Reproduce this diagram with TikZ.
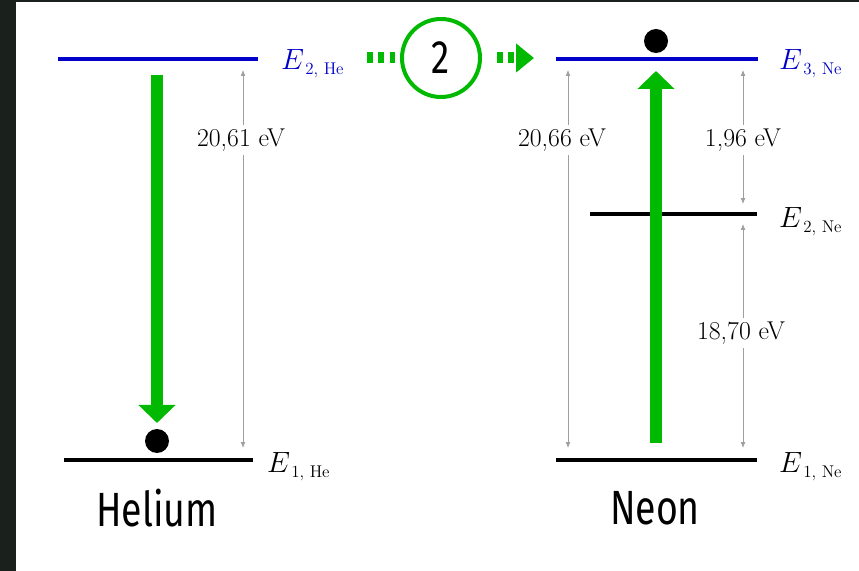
\RequirePackage{fix-cm}
\documentclass[tikz,border=0pt]{standalone}
\usepackage{fontspec}
\newfontfamily\namefont{Fira Sans}[FakeStretch=0.78]
\usetikzlibrary{arrows.meta}
\definecolor{levelblue}{RGB}{0,0,200}
\definecolor{jumpgreen}{RGB}{0,185,0}
\definecolor{boardgray}{RGB}{26,32,28}
\newcommand{\levelsub}[1]{\hbox{\fontsize{14.5}{17}\selectfont\,#1}}

\begin{document}
\begin{tikzpicture}[x=0.03cm, y=-0.03cm,
	upper/.style={draw=levelblue, line width=0.12cm},
	lower/.style={draw=black, line width=0.12cm},
	gap/.style={draw=gray!75, line width=0.6pt, -{Latex[length=5pt, width=4pt]}},
	gaplabel/.style={fill=white, inner sep=3pt, font=\fontsize{22}{26}\selectfont},
	elabel/.style={anchor=base west, inner sep=0pt, font=\fontsize{25}{30}\selectfont},
	jump/.style={draw=jumpgreen, line width=0.36cm, -{Triangle[length=0.54cm, width=1.08cm]}},
	hop/.style={draw=jumpgreen, line width=0.33cm, dash pattern=on 0.18cm off 0.16cm},
	electron/.style={shape=circle, fill=black, inner sep=0pt, minimum size=0.72cm},
	atomname/.style={font=\namefont\fontsize{41}{48}\selectfont}]
	\useasboundingbox (0,0) rectangle (859,571);
	\fill[boardgray] (0,0) rectangle (16,571);
	\fill[boardgray] (0,0) rectangle (859,2);
	% Helium levels:
	\coordinate (he2a) at (58,59); \coordinate (he2b) at (258,59);
	\coordinate (he1a) at (64,460); \coordinate (he1b) at (253,460);
	\draw[upper] (he2a) -- (he2b);
	\draw[lower] (he1a) -- (he1b);
	\node[elabel, text=levelblue] (he2) at (281,70) {$E_{\levelsub{2, He}}$};
	\node[elabel] (he1) at (267,473) {$E_{\levelsub{1, He}}$};
	\node[atomname] (helium) at (157,508) {Helium};
	\coordinate (hetop) at (243,70); \coordinate (hebot) at (243,448);
	\node[gaplabel] (hegap) at (241,140) {20,61 eV};
	\draw[gap] (hegap.north -| hetop) -- (hetop);
	\draw[gap] (hegap.south -| hebot) -- (hebot);
	\coordinate (hefrom) at (157,75); \coordinate (heto) at (157,423);
	\draw[jump] (hefrom) -- (heto);
	\node[electron] (hedot) at (157,441) {};
	% Transfer:
	\coordinate (hopfrom) at (367,58); \coordinate (hopto) at (534,58);
	\node[shape=circle, draw=jumpgreen, line width=0.12cm, inner sep=0pt, minimum size=2.34cm, font=\namefont\fontsize{40}{48}\selectfont] (hopstep) at (441,58) {2};
	\draw[hop, shorten >=0.15cm] (hopfrom) -- (hopstep);
	\draw[hop, shorten <=0.45cm, -{Triangle[length=0.54cm, width=0.84cm]}] (hopstep) -- (hopto);
	% Neon levels:
	\coordinate (ne3a) at (556,59); \coordinate (ne3b) at (758,59);
	\coordinate (ne2a) at (590,214); \coordinate (ne2b) at (757,214);
	\coordinate (ne1a) at (556,460); \coordinate (ne1b) at (757,460);
	\draw[upper] (ne3a) -- (ne3b);
	\draw[lower] (ne2a) -- (ne2b);
	\draw[lower] (ne1a) -- (ne1b);
	\node[elabel, text=levelblue] (ne3) at (779,70) {$E_{\levelsub{3, Ne}}$};
	\node[elabel] (ne2) at (779,228) {$E_{\levelsub{2, Ne}}$};
	\node[elabel] (ne1) at (779,473) {$E_{\levelsub{1, Ne}}$};
	\node[atomname] (neon) at (655,508) {Neon};
	\coordinate (netop) at (568,70); \coordinate (nebot) at (568,448);
	\node[gaplabel] (negap) at (562,140) {20,66 eV};
	\draw[gap] (negap.north -| netop) -- (netop);
	\draw[gap] (negap.south -| nebot) -- (nebot);
	\coordinate (uptop) at (743,70); \coordinate (upbot) at (743,204);
	\node[gaplabel] (upgap) at (743,140) {1,96 eV};
	\draw[gap] (upgap) -- (uptop);
	\draw[gap] (upgap) -- (upbot);
	\coordinate (lotop) at (743,224); \coordinate (lobot) at (743,448);
	\node[gaplabel] (logap) at (741,333) {18,70 eV};
	\draw[gap] (logap.north -| lotop) -- (lotop);
	\draw[gap] (logap.south -| lobot) -- (lobot);
	\coordinate (nefrom) at (656,443); \coordinate (neto) at (656,71);
	\draw[jump] (nefrom) -- (neto);
	\node[electron] (nedot) at (656,41) {};
\end{tikzpicture}
\end{document}
